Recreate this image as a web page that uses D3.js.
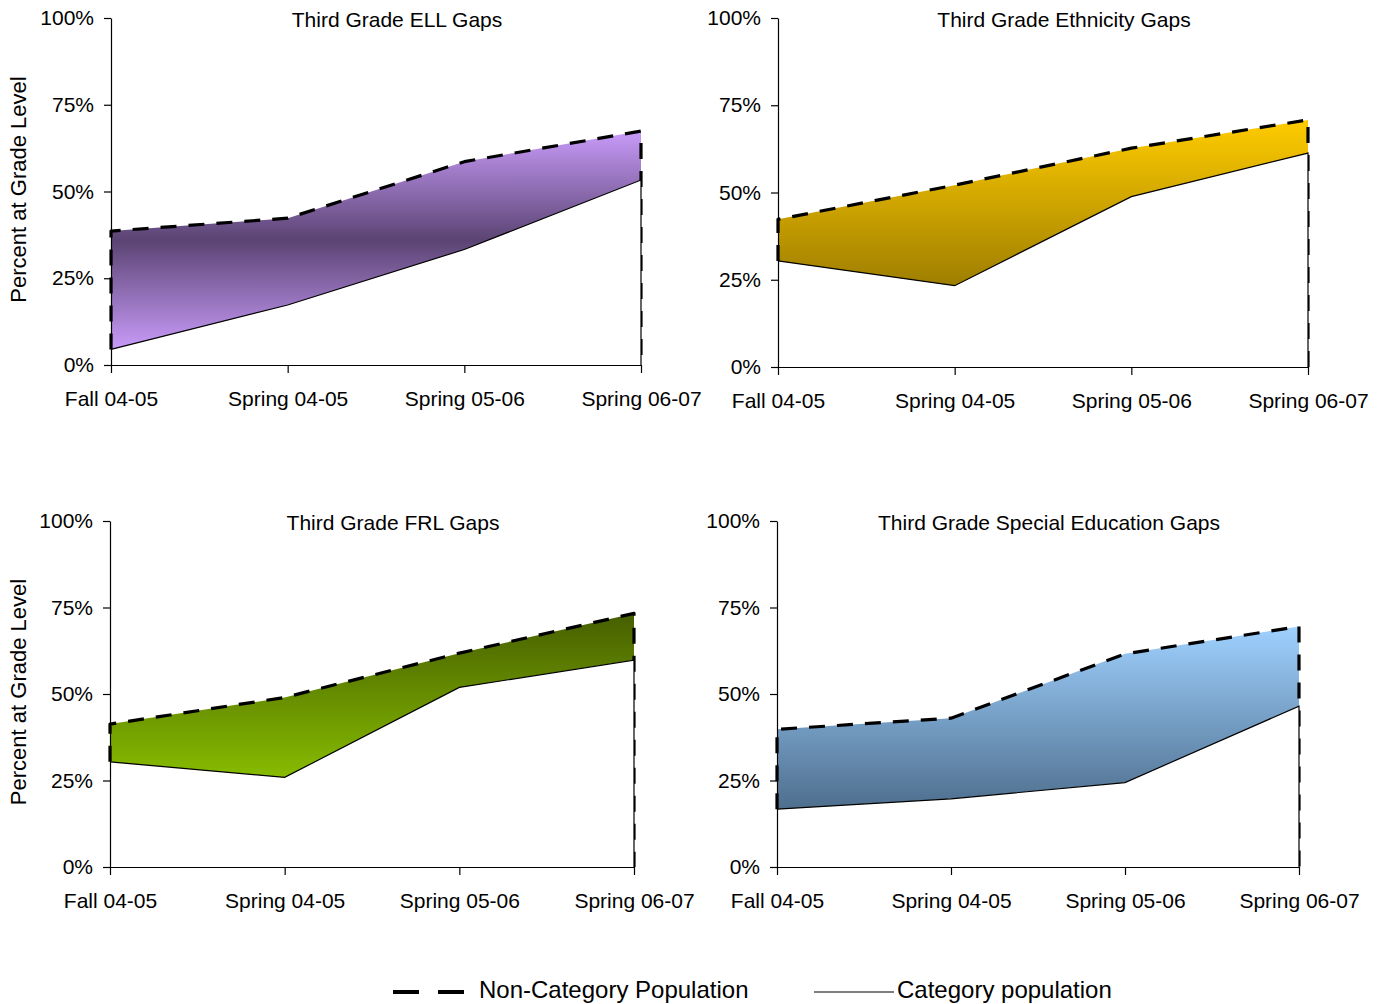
<!DOCTYPE html>
<html>
<head>
<meta charset="utf-8">
<script src="https://cdn.jsdelivr.net/npm/d3@7"></script>
<style>
  html, body { margin: 0; padding: 0; background: #fff; }
  svg text { font-family: "Liberation Sans", Arial, sans-serif; fill: #000; }
</style>
</head>
<body>
<svg id="chart" width="1386" height="1004"></svg>
<script>
// ---- data ----
const categories = ["Fall 04-05", "Spring 04-05", "Spring 05-06", "Spring 06-07"];
const yTickValues = [0, 25, 50, 75, 100];
const titles = ["Third Grade ELL Gaps", "Third Grade Ethnicity Gaps", "Third Grade FRL Gaps", "Third Grade Special Education Gaps"];
const ellNonCategory = [38.6, 42.3, 58.6, 67.4];
const ellCategory = [4.5, 17.3, 33.3, 53.3];
const ethNonCategory = [42.3, 52.1, 62.7, 70.8];
const ethCategory = [30.4, 23.3, 48.8, 61.3];
const frlNonCategory = [41.3, 49.0, 61.8, 73.3];
const frlCategory = [30.4, 25.9, 51.9, 59.8];
const speNonCategory = [39.8, 43.0, 61.6, 69.5];
const speCategory = [16.7, 19.7, 24.4, 46.5];
const yAxisTitle = "Percent at Grade Level";
const legendLabels = ["Non-Category Population", "Category population"];

// ---- layout / style ----
const layout = [
  { x0: 111, x1: 641, yTop: 18, yBot: 365, titleX: 397, yTitle: true },
  { x0: 778, x1: 1308, yTop: 18, yBot: 367, titleX: 1064, yTitle: false },
  { x0: 110, x1: 634, yTop: 521, yBot: 867, titleX: 393, yTitle: true },
  { x0: 777, x1: 1299, yTop: 521, yBot: 867, titleX: 1049, yTitle: false }
];
const gradients = [
  [["0%", "#c89bf9"], ["50%", "#5b4473"], ["100%", "#c89bf9"]],
  [["0%", "#ffcc00"], ["100%", "#9e7e00"]],
  [["0%", "#465e00"], ["100%", "#87bc00"]],
  [["0%", "#9fd1ff"], ["100%", "#4e6e8d"]]
];
const series = [
  [ellNonCategory, ellCategory],
  [ethNonCategory, ethCategory],
  [frlNonCategory, frlCategory],
  [speNonCategory, speCategory]
];

const svg = d3.select("#chart");
const defs = svg.append("defs");
const FONT = 21;

series.forEach(([upper, lower], i) => {
  const L = layout[i];
  const x = d3.scalePoint().domain(categories).range([L.x0, L.x1]);
  const y = d3.scaleLinear().domain([0, 100]).range([L.yBot, L.yTop]);
  const g = svg.append("g");

  // gradient spanning from the highest upper value to the lowest lower value
  const gid = "grad" + i;
  const grad = defs.append("linearGradient").attr("id", gid)
    .attr("gradientUnits", "userSpaceOnUse")
    .attr("x1", 0).attr("x2", 0)
    .attr("y1", y(d3.max(upper))).attr("y2", y(d3.min(lower)));
  gradients[i].forEach(([o, c]) => grad.append("stop").attr("offset", o).attr("stop-color", c));

  const upperPts = categories.map((c, k) => [x(c), y(upper[k])]);
  const lowerPts = categories.map((c, k) => [x(c), y(lower[k])]);

  // upper area (gradient) from 0 to non-category
  const areaUp = d3.area().x(d => d[0]).y0(y(0)).y1(d => d[1]);
  g.append("path").attr("d", areaUp(upperPts)).attr("fill", `url(#${gid})`);

  // dashed outline: left side, top line, right side down to 0
  const dashPts = [lowerPts[0], ...upperPts, [x(categories[categories.length - 1]), y(0)]];
  g.append("path").attr("d", d3.line()(dashPts))
    .attr("fill", "none").attr("stroke", "#000").attr("stroke-width", 3.2)
    .attr("stroke-dasharray", "16,12").attr("stroke-linejoin", "round");

  // lower area (white) from 0 to category
  g.append("path").attr("d", areaUp(lowerPts)).attr("fill", "#fff");

  // solid category line + right edge down to 0
  const solidPts = [...lowerPts, [x(categories[categories.length - 1]), y(0)]];
  g.append("path").attr("d", d3.line()(solidPts))
    .attr("fill", "none").attr("stroke", "#000").attr("stroke-width", 1.2);

  // axes
  const yAxis = d3.axisLeft(y).tickValues(yTickValues).tickSize(7).tickSizeOuter(0).tickPadding(10)
    .tickFormat(d => d + "%");
  const ya = g.append("g").attr("transform", `translate(${L.x0},0)`).call(yAxis);
  const xAxis = d3.axisBottom(x).tickSize(8).tickSizeOuter(0).tickPadding(18);
  const xa = g.append("g").attr("transform", `translate(0,${L.yBot})`).call(xAxis);
  [ya, xa].forEach(a => {
    a.selectAll("path, line").attr("stroke", "#000").attr("stroke-width", 1.2);
    a.selectAll("text").style("font-size", FONT + "px").attr("fill", "#000")
      .style("font-family", '"Liberation Sans", Arial, sans-serif');
  });

  // title
  g.append("text").attr("x", L.titleX).attr("y", L.yTop + 9)
    .attr("text-anchor", "middle").style("font-size", FONT + "px").text(titles[i]);

  if (L.yTitle) {
    const cy = (L.yTop + L.yBot) / 2 + 0;
    g.append("text").attr("transform", `translate(26,${cy - 2}) rotate(-90)`)
      .attr("text-anchor", "middle").style("font-size", "22px").text(yAxisTitle);
  }
});

// legend
const lg = svg.append("g");
lg.append("line").attr("x1", 393).attr("x2", 464).attr("y1", 992).attr("y2", 992)
  .attr("stroke", "#000").attr("stroke-width", 4).attr("stroke-dasharray", "26,19");
lg.append("text").attr("x", 479).attr("y", 998).style("font-size", "24px").text(legendLabels[0]);
lg.append("line").attr("x1", 814).attr("x2", 894).attr("y1", 992).attr("y2", 992)
  .attr("stroke", "#000").attr("stroke-width", 1.2);
lg.append("text").attr("x", 897).attr("y", 998).style("font-size", "24px").text(legendLabels[1]);
</script>
</body>
</html>
